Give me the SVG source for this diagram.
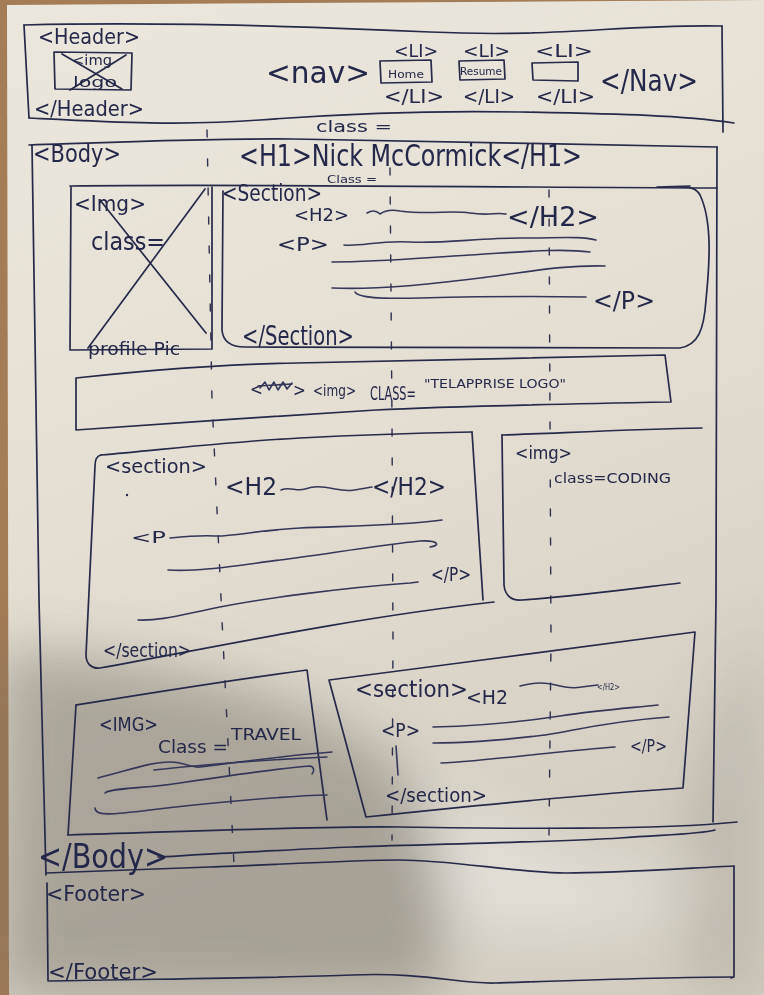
<svg xmlns="http://www.w3.org/2000/svg" width="764" height="995" viewBox="0 0 764 995">
<defs>
<linearGradient id="paper" x1="0" y1="0" x2="0.3" y2="1">
<stop offset="0" stop-color="#ece7dd"/>
<stop offset="0.55" stop-color="#e4ded2"/>
<stop offset="1" stop-color="#d4cec2"/>
</linearGradient>
<filter id="blur" x="-50%" y="-50%" width="200%" height="200%"><feGaussianBlur stdDeviation="28"/></filter>
<style>
.ink{fill:none;stroke:#262a4a;stroke-width:1.7;stroke-linecap:round;stroke-linejoin:round}
.pen{fill:none;stroke:#34375a;stroke-width:1.6;stroke-linecap:round;stroke-linejoin:round}
.guide{fill:none;stroke:#2e3150;stroke-width:1.4;stroke-dasharray:7 22;stroke-linecap:round}
text{fill:#23274a;font-family:"Liberation Sans Narrow","DejaVu Sans Condensed","Liberation Sans",sans-serif}
</style>
</defs>
<rect width="764" height="995" fill="#a47c56"/>
<path d="M7,5 L764,0 L764,995 L9,995 Z" fill="url(#paper)"/>
<g filter="url(#blur)">
<path d="M0,650 C150,655 300,690 390,760 C450,810 470,900 430,995 L0,995 Z" fill="#6e6960" opacity="0.45"/>
<path d="M764,620 C700,700 660,830 690,995 L764,995 Z" fill="#6e6960" opacity="0.2"/>
<path d="M420,780 C480,820 560,870 700,880 C650,930 520,950 450,920 Z" fill="#ffffff" opacity="0.35"/>
</g>

<g id="guides">
<path class="guide" d="M207,130 L212,400 L222,620 L234,865"/>
<path class="guide" d="M390,168 L392,420 L393,640 L392,840"/>
<path class="guide" d="M549,190 L550,420 L551,640 L549,835"/>
</g>

<g id="header">
<path class="ink" d="M24,25 C150,22 300,26 430,32 S620,24 722,26"/>
<path class="ink" d="M24,25 L29,118"/>
<path class="ink" d="M722,26 L723,132"/>
<path class="ink" d="M29,118 C110,122 180,126 260,120 S420,110 520,112 S680,115 734,123"/>
<text x="38" y="44" font-size="22" textLength="102" lengthAdjust="spacingAndGlyphs">&lt;Header&gt;</text>
<text x="34" y="116" font-size="21" textLength="110" lengthAdjust="spacingAndGlyphs">&lt;/Header&gt;</text>
</g>

<g id="logo-img">
<path class="ink" d="M54,52 L132,53 L131,90 L55,89 Z"/>
<path class="ink" d="M62,54 L122,89 M126,55 L70,90"/>
<text x="72" y="65" font-size="14" textLength="40" lengthAdjust="spacingAndGlyphs">&lt;img</text>
<text x="73" y="87" font-size="14" textLength="44" lengthAdjust="spacingAndGlyphs">logo</text>
</g>

<g id="nav">
<text x="266" y="83" font-size="31" textLength="104" lengthAdjust="spacingAndGlyphs">&lt;nav&gt;</text>
<text x="600" y="91" font-size="31" textLength="98" lengthAdjust="spacingAndGlyphs">&lt;/Nav&gt;</text>
<text x="394" y="57" font-size="18" textLength="44" lengthAdjust="spacingAndGlyphs">&lt;LI&gt;</text>
<text x="463" y="57" font-size="18" textLength="47" lengthAdjust="spacingAndGlyphs">&lt;LI&gt;</text>
<text x="535" y="57" font-size="18" textLength="58" lengthAdjust="spacingAndGlyphs">&lt;LI&gt;</text>
<text x="384" y="103" font-size="19" textLength="60" lengthAdjust="spacingAndGlyphs">&lt;/LI&gt;</text>
<text x="463" y="103" font-size="19" textLength="52" lengthAdjust="spacingAndGlyphs">&lt;/LI&gt;</text>
<text x="536" y="103" font-size="19" textLength="59" lengthAdjust="spacingAndGlyphs">&lt;/LI&gt;</text>
<path class="ink" d="M380,61 L431,60 L432,82 L381,83 Z"/>
<text x="388" y="78" font-size="11" textLength="36" lengthAdjust="spacingAndGlyphs">Home</text>
<path class="ink" d="M459,61 L504,60 L505,79 L460,80 Z"/>
<text x="460" y="75" font-size="11" textLength="42" lengthAdjust="spacingAndGlyphs">Resume</text>
<path class="ink" d="M532,63 L578,62 L578,81 L533,80 Z"/>
</g>

<g id="body">
<text x="316" y="132" font-size="15" textLength="76" lengthAdjust="spacingAndGlyphs">class =</text>
<path class="ink" d="M29,145 C120,142 220,138 293,139 S600,145 717,147"/>
<path class="ink" d="M32,145 L39,600 L46,875"/>
<path class="ink" d="M717,147 L716,600 L713,822"/>
<text x="33" y="162" font-size="24" textLength="88" lengthAdjust="spacingAndGlyphs">&lt;Body&gt;</text>
<text x="239" y="166" font-size="30" textLength="343" lengthAdjust="spacingAndGlyphs">&lt;H1&gt;Nick McCormick&lt;/H1&gt;</text>
<text x="327" y="183" font-size="11" textLength="50" lengthAdjust="spacingAndGlyphs">Class =</text>
<path class="ink" d="M70,186 C250,184 450,187 717,188"/>
<path class="ink" d="M68,835 C200,831 320,826 400,827 S650,831 737,822"/>
<path class="ink" d="M158,857 C230,853 300,849 352,847 S560,842 620,838 S700,834 715,830"/>
<text x="38" y="868" font-size="33" textLength="130" lengthAdjust="spacingAndGlyphs">&lt;/Body&gt;</text>
</g>

<g id="profile-img">
<path class="ink" d="M71,187 L70,350 L212,349 L212,187"/>
<path class="ink" d="M100,200 L206,333 M205,189 L88,348"/>
<text x="74" y="211" font-size="22" textLength="72" lengthAdjust="spacingAndGlyphs">&lt;Img&gt;</text>
<text x="91" y="250" font-size="24" textLength="74" lengthAdjust="spacingAndGlyphs">class=</text>
<text x="88" y="355" font-size="18" textLength="92" lengthAdjust="spacingAndGlyphs">profile Pic</text>
</g>

<g id="intro-section">
<path class="ink" d="M223,191 L222,330 C223,342 232,347 245,347 L680,348 C698,345 704,330 706,300 C710,260 712,220 700,195 C696,188 690,187 680,187"/>
<path class="ink" d="M657,187 L690,186" stroke-width="3"/>
<text x="222" y="201" font-size="23" textLength="100" lengthAdjust="spacingAndGlyphs">&lt;Section&gt;</text>
<text x="294" y="221" font-size="18" textLength="55" lengthAdjust="spacingAndGlyphs">&lt;H2&gt;</text>
<path class="pen" d="M367,213 C372,210 376,210 380,214 C384,211 390,209 400,211 C430,215 450,210 470,213 S495,212 506,214"/>
<text x="507" y="226" font-size="26" textLength="92" lengthAdjust="spacingAndGlyphs">&lt;/H2&gt;</text>
<text x="277" y="251" font-size="20" textLength="52" lengthAdjust="spacingAndGlyphs">&lt;P&gt;</text>
<path class="pen" d="M344,245 C360,247 380,240 410,242 S480,238 520,238 S580,236 596,240"/>
<path class="pen" d="M332,262 C380,262 420,258 470,255 S560,248 590,252"/>
<path class="pen" d="M332,288 C380,290 430,284 480,278 S560,265 605,266"/>
<path class="pen" d="M355,292 C358,298 380,299 420,298 S530,296 586,297"/>
<text x="593" y="309" font-size="24" textLength="62" lengthAdjust="spacingAndGlyphs">&lt;/P&gt;</text>
<text x="242" y="345" font-size="26" textLength="112" lengthAdjust="spacingAndGlyphs">&lt;/Section&gt;</text>
</g>

<g id="logo-banner">
<path class="ink" d="M76,378 C150,370 230,364 297,363 S560,357 665,355 L671,402 C560,404 450,406 376,410 S150,425 76,430 Z"/>
<text x="250" y="395" font-size="17">&lt;</text>
<path class="pen" d="M260,388 l5,-6 l4,8 l5,-8 l4,8 l5,-8 l4,7 l5,-6"/>
<path class="pen" d="M258,386 L292,384"/>
<text x="293" y="396" font-size="17">&gt;</text>
<text x="313" y="396" font-size="16" textLength="43" lengthAdjust="spacingAndGlyphs">&lt;img&gt;</text>
<text x="370" y="400" font-size="19" textLength="46" lengthAdjust="spacingAndGlyphs">CLASS=</text>
<text x="424" y="388" font-size="12" textLength="142" lengthAdjust="spacingAndGlyphs">"TELAPPRISE LOGO"</text>
</g>

<g id="section-2">
<path class="ink" d="M472,432 L483,600"/>
<path class="ink" d="M101,455 C160,450 225,442 300,438 S420,433 472,432"/>
<path class="ink" d="M101,455 C96,456 95,460 95,466 L86,655 C86,664 92,669 100,668 C200,650 350,618 494,602"/>
<text x="105" y="473" font-size="19" textLength="102" lengthAdjust="spacingAndGlyphs">&lt;section&gt;</text>
<circle cx="127" cy="495" r="1.2" fill="#262a4a"/>
<text x="225" y="495" font-size="24" textLength="52" lengthAdjust="spacingAndGlyphs">&lt;H2</text>
<path class="pen" d="M281,490 C290,486 296,492 305,489 S320,486 335,489 S355,490 372,487"/>
<text x="372" y="495" font-size="24" textLength="74" lengthAdjust="spacingAndGlyphs">&lt;/H2&gt;</text>
<text x="131" y="543" font-size="16" textLength="35" lengthAdjust="spacingAndGlyphs">&lt;P</text>
<path class="pen" d="M170,538 C190,536 200,535 215,536 S260,530 300,528 S400,526 442,520"/>
<path class="pen" d="M168,570 C200,572 240,565 280,560 S380,545 420,541 C440,540 440,546 430,547"/>
<text x="431" y="581" font-size="19" textLength="40" lengthAdjust="spacingAndGlyphs">&lt;/P&gt;</text>
<path class="pen" d="M138,620 C160,621 180,615 220,607 S340,588 410,583 L418,582"/>
<text x="103" y="657" font-size="19" textLength="88" lengthAdjust="spacingAndGlyphs">&lt;/section&gt;</text>
</g>

<g id="coding-img">
<path class="ink" d="M502,435 C560,433 640,429 702,428"/>
<path class="ink" d="M502,435 L504,585 C505,596 512,601 522,600 C580,596 630,589 680,583"/>
<text x="515" y="459" font-size="18" textLength="57" lengthAdjust="spacingAndGlyphs">&lt;img&gt;</text>
<text x="554" y="483" font-size="14" textLength="117" lengthAdjust="spacingAndGlyphs">class=CODING</text>
</g>

<g id="section-3">
<path class="ink" d="M329,680 C450,665 580,646 695,632 L683,788 C580,795 470,806 366,817 Z"/>
<text x="355" y="697" font-size="23" textLength="113" lengthAdjust="spacingAndGlyphs">&lt;section&gt;</text>
<text x="466" y="704" font-size="19" textLength="42" lengthAdjust="spacingAndGlyphs">&lt;H2</text>
<path class="pen" d="M520,686 C535,682 545,682 560,686 S585,686 598,685"/>
<text x="597" y="690" font-size="9" textLength="23" lengthAdjust="spacingAndGlyphs">&lt;/H2&gt;</text>
<text x="381" y="737" font-size="20" textLength="39" lengthAdjust="spacingAndGlyphs">&lt;P&gt;</text>
<path class="pen" d="M433,727 C480,726 520,722 560,716 S630,708 658,705"/>
<path class="pen" d="M433,743 C480,743 520,738 545,735 S600,722 669,717"/>
<path class="pen" d="M441,763 C470,762 520,756 560,752 S600,748 615,747"/>
<text x="630" y="752" font-size="18" textLength="37" lengthAdjust="spacingAndGlyphs">&lt;/P&gt;</text>
<path class="pen" d="M396,746 L398,775"/>
<text x="385" y="802" font-size="20" textLength="102" lengthAdjust="spacingAndGlyphs">&lt;/section&gt;</text>
</g>

<g id="travel-img">
<path class="ink" d="M76,705 C150,693 230,680 307,670 L327,820"/>
<path class="ink" d="M76,705 L68,835"/>
<text x="99" y="731" font-size="19" textLength="59" lengthAdjust="spacingAndGlyphs">&lt;IMG&gt;</text>
<text x="158" y="753" font-size="18" textLength="70" lengthAdjust="spacingAndGlyphs">Class =</text>
<text x="231" y="740" font-size="16" textLength="70" lengthAdjust="spacingAndGlyphs">TRAVEL</text>
<path class="pen" d="M98,778 C130,770 150,762 170,762 C185,762 190,768 200,767 C240,762 290,755 332,752"/>
<path class="pen" d="M154,770 C200,765 260,760 327,757"/>
<path class="pen" d="M105,793 C110,788 140,789 180,783 S280,768 310,766 C315,767 314,772 312,774"/>
<path class="pen" d="M95,808 C95,816 110,815 150,810 S280,796 327,795"/>
</g>

<g id="footer">
<path class="ink" d="M46,873 C120,870 170,868 210,867 S350,860 400,860 S520,873 566,873 S690,868 734,866"/>
<path class="ink" d="M734,866 L734,977 L731,978"/>
<path class="ink" d="M47,883 L48,980"/>
<path class="ink" d="M48,981 C150,979 280,978 352,975 S460,984 495,983 S660,977 732,977"/>
<text x="46" y="901" font-size="22" textLength="100" lengthAdjust="spacingAndGlyphs">&lt;Footer&gt;</text>
<text x="48" y="979" font-size="22" textLength="110" lengthAdjust="spacingAndGlyphs">&lt;/Footer&gt;</text>
</g>
</svg>
